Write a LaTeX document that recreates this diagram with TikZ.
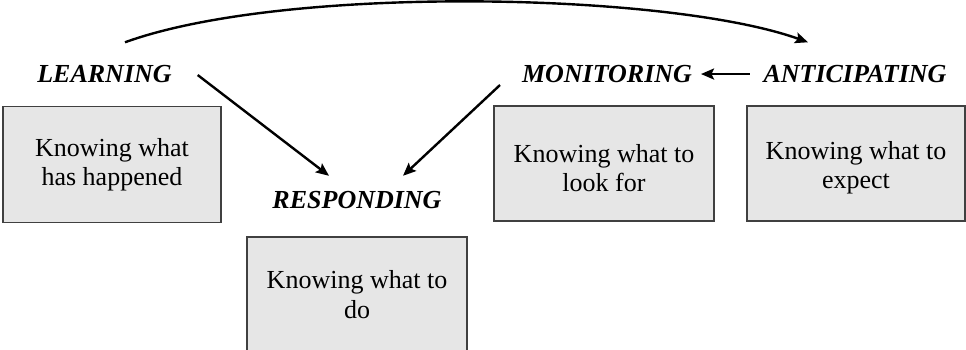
\documentclass[tikz,border=0pt]{standalone}
\usepackage{fontspec}
\setmainfont{Liberation Serif}
\usetikzlibrary{arrows.meta}
\definecolor{boxfill}{HTML}{E6E6E6}
\definecolor{boxline}{HTML}{404040}
\tikzset{
  phase/.style={inner sep=0pt, outer sep=0pt, anchor=base,
    font=\fontsize{26}{30}\selectfont\bfseries\itshape},
  knowbox/.style={draw=boxline, fill=boxfill, line width=1.5pt,
    inner sep=0pt, outer sep=0pt, align=center,
    font=\fontsize{26}{29.5}\selectfont},
  flow/.style={line width=2.4pt, -{Stealth[length=13pt,width=11pt,inset=2.5pt]}}
}
\begin{document}
\begin{tikzpicture}[x=1pt,y=-1pt]
  \useasboundingbox (0,0) rectangle (966,349);
  \clip (0,0) rectangle (966,349);

  % phase labels
  \node[phase] (learn) at (104.5,82) {LEARNING};
  \node[phase] (mon)   at (607,82)   {MONITORING};
  \node[phase] (ant)   at (855,82)   {ANTICIPATING};
  \node[phase] (resp)  at (357,208)  {RESPONDING};

  % what each phase is about
  \node[knowbox, minimum width=218pt, minimum height=116pt] (kl) at (112,164.5)
    {Knowing what\\has happened};
  \node[knowbox, minimum width=220pt, minimum height=115pt] (km) at (604,163.5)
    {\rule{0pt}{27pt}Knowing what to\\look for};
  \node[knowbox, minimum width=218pt, minimum height=115pt] (ka) at (856,163.5)
    {\rule{0pt}{27pt}Knowing what to\\expect};
  \node[knowbox, minimum width=220pt, minimum height=115pt] (kr) at (357,294.5)
    {Knowing what to\\do};

  % connectors
  \draw[flow] ([xshift=26pt,yshift=-1.5pt]learn.east) -- ([xshift=-28pt,yshift=15pt]resp.north);
  \draw[flow] ([xshift=-22pt,yshift=-11.5pt]mon.west) -- ([xshift=46pt,yshift=15pt]resp.north);
  \draw[flow] ([xshift=-14pt,yshift=-0.5pt]ant.west) -- ([xshift=9pt,yshift=-0.5pt]mon.east);
  \draw[flow] ([xshift=20.5pt,yshift=22.5pt]learn.north)
    .. controls +(160,-58) and +(-139,-50) .. ([xshift=-47pt,yshift=22.5pt]ant.north);
\end{tikzpicture}
\end{document}
